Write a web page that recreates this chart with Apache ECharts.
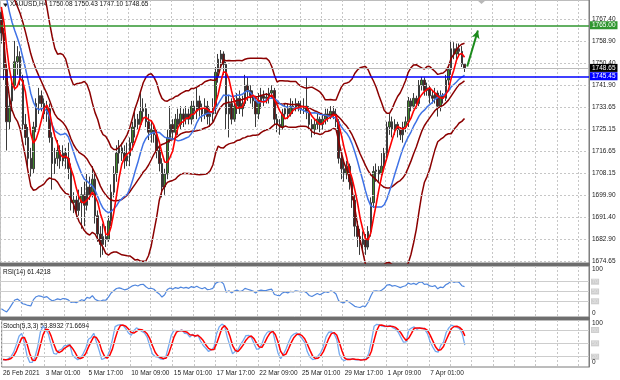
<!DOCTYPE html>
<html><head><meta charset="utf-8">
<script src="https://cdn.jsdelivr.net/npm/echarts@6/dist/echarts.min.js"></script>
<style>html,body{margin:0;padding:0;background:#fff}#c{width:620px;height:380px}</style>
</head><body><div id="c"></div>
<script>
// ---- data (H4 bars, [open, close, low, high]) ----
// bars before the visible window (only used to warm up the indicators)
const priorCandles = [
[1808,1806,1803,1810],[1806,1803,1801,1808],[1803,1800,1797,1805],[1800,1797,1795,1802],
[1797,1798,1794,1801],[1798,1795,1793,1800],[1795,1801,1794,1803],[1801,1796,1794,1803],
[1796,1794,1791,1798],[1794,1798,1792,1800],[1798,1797,1795,1800],[1797,1795,1792,1799],
[1795,1792,1789,1797],[1792,1790,1787,1794],[1790,1786,1783,1792],[1786,1780,1777,1788],
[1780,1778,1775,1783],[1778,1776,1773,1780],[1776,1774,1771,1778],[1774,1770,1768,1776]
];
// visible bars, 26 Feb 2021 09:00 onwards
const candles = [
[1770,1762,1758,1772],[1762,1748,1744,1764],[1748,1728,1717,1750],[1728,1734,1725,1738],
[1736,1742,1732,1745],[1742,1751,1740,1759],[1751,1753,1746,1757],[1753,1744,1742,1755],
[1744,1727,1725,1746],[1727,1722,1719,1731],[1722,1714,1710,1726],[1714,1710,1707,1718],
[1710,1726,1708,1728],[1726,1735,1724,1737],[1735,1738,1731,1741],[1738,1735,1732,1740],
[1735,1731,1729,1737],[1731,1733,1728,1736],[1733,1722,1720,1735],[1722,1712,1702,1724],
[1712,1714,1708,1718],[1714,1717,1711,1721],[1717,1713,1710,1719],[1713,1716,1711,1719],
[1716,1714,1710,1718],[1714,1710,1706,1720],[1710,1697,1694,1712],[1697,1698,1693,1701],
[1698,1694,1691,1700],[1694,1697,1692,1702],[1697,1700,1687,1703],[1700,1696,1688,1705],
[1696,1703,1694,1708],[1703,1700,1698,1707],[1701,1706,1699,1711],[1706,1692,1689,1708],
[1692,1685,1682,1694],[1685,1681,1676,1688],[1681,1684,1677,1689],[1684,1683,1680,1688],
[1683,1690,1682,1692],[1690,1701,1688,1704],[1701,1708,1699,1711],[1708,1716,1705,1719],
[1716,1718,1712,1721],[1718,1716,1713,1720],[1716,1713,1710,1719],[1713,1715,1711,1720],
[1715,1720,1711,1722],[1720,1726,1717,1728],[1726,1729,1722,1733],[1729,1727,1725,1731],
[1727,1732,1726,1739],[1732,1733,1729,1737],[1733,1728,1726,1735],[1728,1724,1721,1731],
[1724,1725,1720,1728],[1725,1723,1720,1727],[1723,1717,1714,1725],[1717,1712,1709,1719],
[1712,1703,1699,1714],[1703,1708,1700,1710],[1708,1722,1706,1725],[1722,1727,1720,1734],
[1727,1724,1721,1729],[1724,1729,1722,1731],[1729,1727,1723,1733],[1727,1731,1725,1734],
[1731,1729,1726,1733],[1729,1731,1727,1734],[1731,1729,1727,1733],[1729,1734,1727,1736],
[1734,1732,1729,1736],[1732,1736,1729,1741],[1736,1733,1730,1738],[1733,1731,1728,1735],
[1731,1734,1729,1737],[1734,1730,1727,1736],[1730,1731,1726,1733],[1731,1733,1728,1737],
[1733,1747,1731,1749],[1747,1752,1743,1754],[1752,1754,1749,1755.5],[1754,1750,1746,1755],
[1750,1731,1725,1751],[1731,1735,1722,1738],[1735,1729,1727,1737],[1729,1734,1728,1737],
[1734,1737,1731,1739],[1737,1733,1731,1740],[1733,1735,1730,1738],[1735,1742,1734,1746],
[1742,1740,1736,1745],[1740,1738,1735,1742],[1738,1736,1733,1740],[1736,1731,1726,1738],
[1731,1736,1729,1739],[1736,1738,1733,1741],[1738,1737,1734,1740],[1737,1737.5,1735,1739],
[1737.5,1739,1735,1741],[1739,1740,1737,1742],[1740,1729,1727,1741],[1729,1727,1724,1731],
[1727,1726,1723,1729],[1726,1731,1725,1733],[1731,1733,1729,1735],[1733,1731,1729,1735],
[1731,1734,1730,1737],[1734,1733,1731,1736],[1733,1735,1732,1737],[1735,1734,1732,1736],
[1734,1733,1731,1736],[1733,1734,1731,1737],[1734,1732,1729,1745],[1732,1727,1725,1734],
[1727,1725,1722,1729],[1725,1727,1723,1729],[1727,1729,1725,1731],[1729,1727,1724,1730],
[1727,1729,1725,1731],[1729,1731,1727,1733],[1731,1730,1728,1733],[1730,1732,1729,1734],
[1732,1731,1729,1734],[1731,1728,1726,1733],[1728,1714,1712,1729],[1714,1710,1706,1716],
[1710,1708,1705,1713],[1708,1711,1706,1713],[1711,1705,1702,1712],[1705,1698,1695,1707],
[1698,1688,1684,1700],[1688,1684,1680,1690],[1684,1681,1677,1687],[1681,1683,1678,1686],
[1683,1680,1677,1685],[1680,1686,1679,1688],[1686,1697,1684,1699],[1697,1709,1695,1711],
[1709,1709.5,1705,1712],[1709.5,1708,1705,1711],[1708,1711,1706,1716],[1711,1716,1709,1718],
[1716,1726,1713,1728],[1726,1728,1723,1731],[1728,1725,1722,1730],[1725,1727,1723,1729],
[1727,1725,1722,1728],[1725,1723,1721,1726],[1723,1726,1720,1728],[1726,1728,1724,1730],
[1728,1736,1726,1737.5],[1736,1734,1732,1737],[1734,1737,1733,1739],[1737,1735,1733,1738],
[1735,1742,1734,1744],[1742,1744,1740,1745.2],[1744,1740,1738,1745],[1740,1741,1738,1743],
[1741,1738,1735,1742],[1738,1737,1735,1740],[1737,1739,1735,1741],[1739,1734,1730,1740],
[1734,1738,1732,1740],[1738,1737,1735,1739],[1737,1744,1736,1746],[1744,1748,1742,1749],
[1748,1756,1746,1758.6],[1756,1754,1752,1758.5],[1754,1756,1752,1758],[1756,1755,1753,1758],
[1755,1750.08,1749,1757],[1750.08,1748.65,1747.10,1750.43]
];
const timeLabels = ['26 Feb 2021','3 Mar 01:00','5 Mar 17:00','10 Mar 09:00','15 Mar 01:00','17 Mar 17:00',
  '22 Mar 09:00','25 Mar 01:00','29 Mar 17:00','1 Apr 09:00','7 Apr 01:00'];
const priceTicks = [1767.40,1758.90,1750.40,1741.90,1733.65,1725.15,1716.65,1708.15,1699.90,1691.40,1682.90,1674.65];
const targetLevel = 1765.00, supportLevel = 1745.45, bidLevel = 1748.65;
const rsiLevels = [70,50,30];
const stochLevels = [80,50,20];
const arrowStart = [174, 1749.2], arrowEnd = [178, 1763.0];
const mainTitle = 'XAUUSD,H4 1750.08 1750.43 1747.10 1748.65';
const rsiTitle = 'RSI(14) 61.4218';
const stochTitle = 'Stoch(5,3,3) 53.8932 71.6694';

// ---- indicators computed from the bars ----
const all = priorCandles.concat(candles);
const P = priorCandles.length;
const C = all.map(c=>c[1]), L = all.map(c=>c[2]), H = all.map(c=>c[3]);
function sma(a,n){return a.map((_,i)=>{if(i<n-1||a[i]==null)return null;let s=0;for(let j=i-n+1;j<=i;j++){if(a[j]==null)return null;s+=a[j];}return s/n;});}
function bands(a,n,k){const m=sma(a,n);const up=[],lo=[];a.forEach((_,i)=>{if(m[i]==null){up.push(null);lo.push(null);return;}let v=0;for(let j=i-n+1;j<=i;j++)v+=(a[j]-m[i])**2;const sd=Math.sqrt(v/n);up.push(m[i]+k*sd);lo.push(m[i]-k*sd);});return [up,m,lo];}
function rsi(a,n){const out=a.map(()=>null);let g=0,l=0;for(let i=1;i<=n;i++){const d=a[i]-a[i-1];if(d>0)g+=d;else l-=d;}g/=n;l/=n;out[n]=100-100/(1+g/(l||1e-9));for(let i=n+1;i<a.length;i++){const d=a[i]-a[i-1];g=(g*(n-1)+(d>0?d:0))/n;l=(l*(n-1)+(d<0?-d:0))/n;out[i]=100-100/(1+g/(l||1e-9));}return out;}
function stoch(k,sl,dN){const num=[],den=[];for(let i=0;i<C.length;i++){if(i<k-1){num.push(null);den.push(null);continue;}let hh=-1e9,ll=1e9;for(let j=i-k+1;j<=i;j++){hh=Math.max(hh,H[j]);ll=Math.min(ll,L[j]);}num.push(C[i]-ll);den.push(hh-ll);}
  const K=num.map((_,i)=>{if(i<k-1+sl-1)return null;let a=0,b=0;for(let j=i-sl+1;j<=i;j++){a+=num[j];b+=den[j];}return b?100*a/b:100;});return [K,sma(K,dN)];}
const vis = a => a.slice(P);
const [bbU,bbM,bbL] = bands(C,20,2).map(vis);
const ma5 = vis(sma(C,5)), ma13 = vis(sma(C,13));
const rsiV = vis(rsi(C,14));
const [stK,stD] = stoch(5,3,3).map(vis);

// ---- chart ----
const SLOTS = 220;
const slots = Array.from({length:SLOTS},(_,i)=>i);
const labelStep = 16, gridStep = 8;
const FONT = 'Liberation Sans';
function xAx(gi, show){return {type:'category',gridIndex:gi,data:slots,boundaryGap:true,
  axisLine:{show:false},axisTick:{show:false},
  axisLabel:{show:show,interval:(i)=>i%labelStep===0&&i/labelStep<timeLabels.length,
    formatter:(v,i)=>timeLabels[i/labelStep]||'',align:'left',margin:3,fontSize:6.5,color:'#222',fontFamily:FONT},
  splitLine:{show:true,interval:(i)=>i%gridStep===0,lineStyle:{color:'#c6c6c6',type:[2,2],width:1}}};}
function yAx(gi,min,max){return {type:'value',gridIndex:gi,position:'right',min:min,max:max,
  axisLabel:{show:false},splitLine:{show:false},axisTick:{show:false},axisLine:{show:true,lineStyle:{color:'#808080'}}};}
const lineS = (name,data,color,w,xi,z) => ({name,type:'line',data,xAxisIndex:xi,yAxisIndex:xi,symbol:'none',
  lineStyle:{color,width:w},itemStyle:{color},z:z||3,silent:true,animation:false});
const lblBase = {fontSize:6.5,fontFamily:FONT,color:'#222',position:'end',distance:3};
function levelLines(levels,xi){return {type:'line',data:[],xAxisIndex:xi,yAxisIndex:xi,z:1,silent:true,
  markLine:{silent:true,symbol:['none','none'],animation:false,
   lineStyle:{color:'#cdcdcd',type:'solid',width:1},
   label:{position:'end',distance:2,fontSize:5.5,fontFamily:FONT,color:'#e4e4e4',backgroundColor:'#cfcfcf',padding:[0,1],formatter:p=>String(p.value)},
   data:levels.map(v=>({yAxis:v}))}};}
function edgeLabels(xi,top,dTop,dBot){return {type:'line',data:[],xAxisIndex:xi,yAxisIndex:xi,z:1,silent:true,
  markLine:{silent:true,symbol:['none','none'],animation:false,
   lineStyle:{color:'rgba(0,0,0,0)',width:0},
   label:{position:'end',distance:3,fontSize:6.5,fontFamily:FONT,color:'#222',formatter:p=>String(p.value)},
   data:[{yAxis:top,label:{offset:[0,dTop]}},{yAxis:0,label:{offset:[0,dBot]}}]}};}

const option = {
  animation:false, backgroundColor:'#fff',
  grid:[
    {left:0,top:0,width:589,height:263,show:true,borderColor:'#7a7a7a',borderWidth:1},
    {left:0,top:266,width:589,height:51,show:true,borderColor:'#7a7a7a',borderWidth:1},
    {left:0,top:320,width:589,height:47,show:true,borderColor:'#7a7a7a',borderWidth:1}
  ],
  xAxis:[xAx(0,false),xAx(1,false),xAx(2,true)],
  yAxis:[yAx(0,1673.88,1774.68),yAx(1,-2.04,102.04),yAx(2,-3.1,102.5)],
  series:[
    {type:'line',data:[],xAxisIndex:0,yAxisIndex:0,z:1,silent:true,
     markLine:{silent:true,symbol:['none','none'],animation:false,
       lineStyle:{color:'#c6c6c6',type:[2,2],width:1},
       label:Object.assign({},lblBase,{formatter:p=>Number(p.value).toFixed(2)}),
       data:priceTicks.map(v=>({yAxis:v}))}},
    {type:'candlestick',name:'XAUUSD',xAxisIndex:0,yAxisIndex:0,data:candles,barWidth:2,z:2,silent:true,
     itemStyle:{color:'#3f8a2a',color0:'#5e1414',borderColor:'#3a3a3a',borderColor0:'#3a3a3a',borderWidth:1}},
    lineS('BB upper',bbU,'#8b0000',1.5,0),
    lineS('BB middle',bbM,'#8b0000',1.5,0),
    lineS('BB lower',bbL,'#8b0000',1.5,0),
    lineS('MA13',ma13,'#3f72e6',1.5,0,4),
    lineS('MA5',ma5,'#ff0000',1.6,0,5),
    {type:'line',data:[],xAxisIndex:0,yAxisIndex:0,z:6,silent:true,
     markLine:{silent:true,symbol:['none','none'],animation:false,
       label:{position:'end',distance:1,fontSize:6.5,fontFamily:FONT,color:'#fff',padding:[1,2,0,2],formatter:p=>Number(p.value).toFixed(2)},
       data:[
        {yAxis:bidLevel,lineStyle:{color:'#bcbcbc',width:1,type:'solid'},label:{backgroundColor:'#000'}},
        {yAxis:targetLevel,lineStyle:{color:'#2f962f',width:1.5,type:'solid'},label:{backgroundColor:'#2f962f'}},
        {yAxis:supportLevel,lineStyle:{color:'#0000ff',width:1.6,type:'solid'},label:{backgroundColor:'#0000ff'}}
       ]}},
    {type:'line',data:[],xAxisIndex:0,yAxisIndex:0,z:7,silent:true,
     markLine:{silent:true,animation:false,symbol:['none','arrow'],symbolSize:[6,8],
       lineStyle:{color:'#1b8a1b',width:2,type:'solid'},label:{show:false},
       data:[[{coord:arrowStart},{coord:arrowEnd}]]}},
    levelLines(rsiLevels,1),
    edgeLabels(1,100,2.5,-3),
    lineS('RSI',rsiV,'#4f86de',1.2,1),
    levelLines(stochLevels,2),
    edgeLabels(2,100,2,-3.5),
    lineS('%K',stK,'#74a9ef',1.3,2,3),
    lineS('%D',stD,'#ff0000',1.5,2,4)
  ],
  graphic:[
    {type:'rect',shape:{x:0,y:263,width:590,height:3},style:{fill:'#6e6e6e'},silent:true},
    {type:'rect',shape:{x:0,y:317,width:590,height:3},style:{fill:'#6e6e6e'},silent:true},
    {type:'polygon',shape:{points:[[3,3.5],[8,3.5],[5.5,7]]},style:{fill:'#222'},silent:true},
    {type:'polygon',shape:{points:[[477,0],[486,0],[481.5,4]]},style:{fill:'#b8b8b8'},silent:true},
    {type:'text',x:10,y:1,style:{text:mainTitle,font:'6.5px '+FONT,fill:'#111'},silent:true},
    {type:'text',x:3,y:269,style:{text:rsiTitle,font:'6.5px '+FONT,fill:'#111'},silent:true},
    {type:'text',x:3,y:323,style:{text:stochTitle,font:'6.5px '+FONT,fill:'#111'},silent:true}
  ]
};
const chart = echarts.init(document.getElementById('c'),null,{renderer:'canvas'});
chart.setOption(option);
</script></body></html>
